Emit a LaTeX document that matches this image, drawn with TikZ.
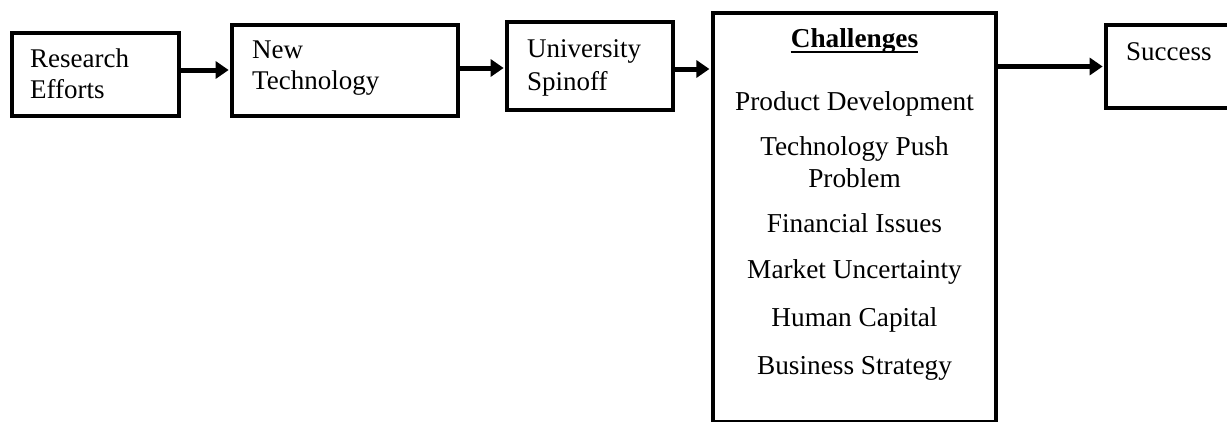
\documentclass[tikz,border=0pt]{standalone}
\usepackage{fontspec}
\setmainfont{Liberation Serif}
\usetikzlibrary{arrows.meta}
\begin{document}
\begin{tikzpicture}[x=1pt,y=-1pt,
  stage/.style={draw, line width=3.5pt, rectangle, inner sep=0pt},
  label/.style={inner sep=0pt, font=\fontsize{27}{31}\selectfont, align=left},
  item/.style={inner sep=0pt, font=\fontsize{27.3}{32}\selectfont, align=center, anchor=base},
  flow/.style={line width=5pt, -{Triangle[length=13pt,width=17pt]}, shorten >=1.6pt}
]
\useasboundingbox (0,0) rectangle (1227,421);
\clip (0,0) rectangle (1227,421);

% stage boxes
\node[stage, minimum width=167pt, minimum height=83pt] (research) at (95.5,74.5) {};
\node[stage, minimum width=226pt, minimum height=91pt] (newtech) at (345,70.5) {};
\node[stage, minimum width=166pt, minimum height=88pt] (spinoff) at (590,66) {};
\node[stage, line width=4pt, minimum width=283pt, minimum height=409.5pt] (challenges) at (854.5,217.25) {};
\node[stage, minimum width=240pt, minimum height=83pt] (success) at (1226,66.5) {};

% box captions (base anchor sits on the last line)
\node[label, anchor=base west] (tResearch) at (30,98) {Research\\Efforts};
\node[label, anchor=base west] (tNewtech) at (252,89) {New\\Technology};
\node[label, anchor=base west, font=\fontsize{27}{33}\selectfont] (tSpinoff) at (527,90) {University\\Spinoff};
\node[label, anchor=base west] (tSuccess) at (1126,60) {Success};

% list of challenges
\node[item] (head) at (854.5,47) {\bfseries Challenges};
\draw[line width=1.8pt] ([yshift=-5pt]head.base west) -- ([yshift=-5pt]head.base east);
\node[item] (c1) at (854.5,110) {Product Development};
\node[item] (c2) at (854.5,187) {Technology Push\\Problem};
\node[item] (c3) at (854.5,232) {Financial Issues};
\node[item] (c4) at (854.5,278) {Market Uncertainty};
\node[item] (c5) at (854.5,326) {Human Capital};
\node[item] (c6) at (854.5,374) {Business Strategy};

% connectors
\draw[flow] ([yshift=4.5pt]research.east) -- ([yshift=4.5pt]research.east -| newtech.west);
\draw[flow] ([yshift=2.5pt]newtech.east) -- ([yshift=2.5pt]newtech.east -| spinoff.west);
\draw[flow] ([yshift=-3pt]spinoff.east) -- ([yshift=-3pt]spinoff.east -| challenges.west);
\draw[flow] (challenges.east |- success.west) -- (success.west);
\end{tikzpicture}
\end{document}
